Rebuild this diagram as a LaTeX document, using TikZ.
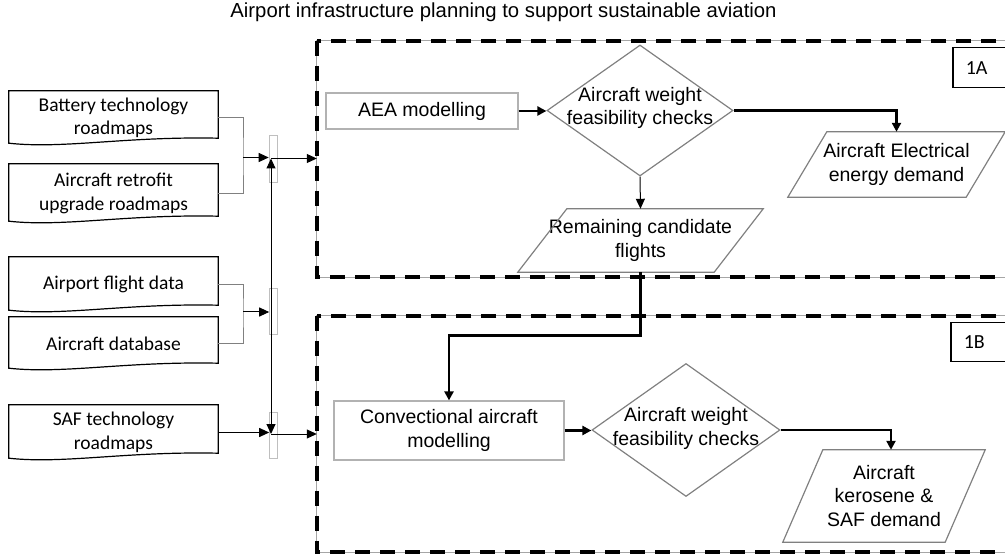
\documentclass[tikz,border=0pt]{standalone}
\usepackage{fontspec}
\setmainfont{Liberation Sans}
\newfontfamily\docfont{Carlito}
\usetikzlibrary{arrows.meta,shapes.geometric,calc}

% outline of a "document" symbol: straight top and sides, wavy bottom edge
\newcommand\docoutline[1]{%
  \draw[docline] ($(#1.south west)+(0,-2)$) -- (#1.north west) -- (#1.north east)
    -- ($(#1.south east)+(0,-7)$)
    .. controls ($(#1.south)+(12,-9)$) and ($(#1.south)+(-50,4)$) .. ($(#1.south west)+(0,-2)$)
    -- cycle;}
% outline of a data (parallelogram) symbol inside a named bounding node
\newcommand\iooutline[2]{%
  \draw[ioline] ($(#1.north west)+(#2,0)$) -- (#1.north east)
    -- ($(#1.south east)+(-#2,0)$) -- (#1.south west) -- cycle;}

\tikzset{
  txt/.style={font=\fontsize{19.5}{23.5}\selectfont, align=center, inner sep=0pt},
  doc/.style={txt, font=\docfont\fontsize{19.5}{23.5}\selectfont, minimum width=209pt},
  docline/.style={draw=black, line width=1.2pt},
  procbox/.style={txt, draw=black!30, line width=1.2pt},
  decision/.style={diamond, draw=black!50, line width=1.2pt, inner sep=0pt},
  iobox/.style={txt},
  ioline/.style={draw=black!50, line width=1.2pt},
  junction/.style={draw=black!25, line width=0.6pt, minimum width=8pt, inner sep=0pt},
  feed/.style={draw=black!50, line width=1pt},
  tip/.style={-{Triangle[length=10pt,width=9pt]}},
  thinflow/.style={tip, draw=black, line width=1pt},
  flow/.style={-{Triangle[length=9pt,width=9pt]}, draw=black, line width=2.4pt},
  grouprule/.style={draw=black!35, line width=0.8pt},
  groupdash/.style={draw=black, line width=3.6pt, dash pattern=on 15pt off 10pt},
  tag/.style={draw=black, fill=white, line width=1.5pt, font=\docfont\fontsize{20}{24}\selectfont,
    anchor=north west, minimum height=40pt, minimum width=62pt, text width=36pt,
    align=left, inner xsep=13pt, inner ysep=0pt}
}

\begin{document}
\begin{tikzpicture}[x=1pt,y=-1pt]
\useasboundingbox (0,0) rectangle (1005,556);
\clip (0,0) rectangle (1005,556);

% title
\node[txt, font=\fontsize{20.3}{24}\selectfont, anchor=base] (title) at (503.5,17.5)
  {Airport infrastructure planning to support sustainable aviation};

% stage groups
\node[minimum width=703pt, minimum height=236pt, inner sep=0pt] (g1) at (668.5,159) {};
\node[minimum width=703pt, minimum height=236pt, inner sep=0pt] (g2) at (668.5,434) {};
\foreach \g in {g1,g2}{
  \draw[grouprule] (\g.north west) rectangle (\g.south east);
  \draw[groupdash] (\g.north west) rectangle (\g.south east);
}
\node[tag] (tagA) at (952,47) {1A};
\node[tag, minimum height=39pt] (tagB) at (950,322) {1B};

% input documents
\node[doc, minimum height=54pt] (bat) at (113.5,118) {Battery technology\\roadmaps};
\node[doc, minimum height=59pt] (ret) at (113.5,193.5) {Aircraft retrofit\\upgrade roadmaps};
\node[doc, minimum height=55pt] (fli) at (113.5,284.5) {Airport flight data};
\node[doc, minimum height=53pt] (adb) at (113.5,343.5) {Aircraft database};
\node[doc, minimum height=55pt] (saf) at (113.5,432.5) {SAF technology\\roadmaps};
\foreach \d in {bat,ret,fli,adb,saf}{\docoutline{\d}}

% junction bars
\node[junction, minimum height=47pt] (jn1) at (273,158.5) {};
\node[junction, minimum height=46pt] (jn2) at (273.5,311) {};
\node[junction, minimum height=46pt] (jn3) at (273.5,435) {};

% merging brackets
\coordinate (b1) at (243,157.5);
\coordinate (b2) at (243,312);
\draw[feed] (bat.east) -| (b1) |- (ret.east);
\draw[feed] (fli.east) -| (b2) |- (adb.east);
\draw[thinflow] (b1) -- (b1 -| jn1.west);
\draw[thinflow] (b2) -- (b2 -| jn2.west);
\draw[thinflow] (saf.east) -- (saf.east -| jn3.west);

% shared bus feeding both stages
\coordinate (v1) at (271,158.5);
\coordinate (v3) at (271,434);
\draw[{Triangle[length=10pt,width=9pt]}-{Triangle[length=10pt,width=9pt]}, draw=black, line width=1pt] (v1) -- (v3);
\draw[thinflow] (v1) -- (v1 -| g1.west);
\draw[thinflow] (v3) -- (v3 -| g2.west);

% stage 1A
\node[procbox, minimum width=192pt, minimum height=36pt] (aea) at (422,111) {AEA modelling};
\node[decision, minimum width=186pt, minimum height=131pt] (d1) at (640,110.5) {};
\node[txt] (d1t) at (640,108) {Aircraft weight\\feasibility checks};
\node[iobox, minimum width=217pt, minimum height=65pt] (elec) at (896.5,164.5) {Aircraft Electrical\\energy demand};
\iooutline{elec}{39}
\node[iobox, minimum width=245pt, minimum height=63pt] (rem) at (640.5,240.5) {Remaining candidate\\flights};
\iooutline{rem}{49}
\draw[flow] (aea.east) -- (aea.east -| d1.west);
\draw[flow] (d1.east) -| (elec.north);
\draw[thinflow] (d1.south) -- (rem.north);

% stage 1B
\node[procbox, minimum width=230pt, minimum height=59pt] (conv) at (449,430.5) {Convectional aircraft\\modelling};
\node[decision, minimum width=188pt, minimum height=133pt] (d2) at (686,430) {};
\node[txt] (d2t) at (686,428.5) {Aircraft weight\\feasibility checks};
\node[iobox, minimum width=202pt, minimum height=92pt] (ker) at (884,496) {Aircraft\\kerosene \&\\SAF demand};
\iooutline{ker}{40}
\draw[flow] (rem.south) |- ($(conv.north)+(0,-65)$) -- (conv.north);
\draw[flow] (conv.east) -- (conv.east -| d2.west);
\draw[flow] (d2.east) -| ($(ker.north)+(7,0)$);
\end{tikzpicture}
\end{document}
